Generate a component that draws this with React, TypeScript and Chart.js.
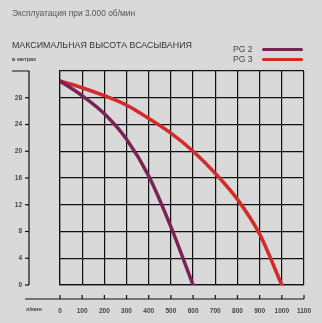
import React, { useEffect, useRef } from "react";
import { Chart, registerables } from "chart.js";

Chart.register(...registerables);

const flowValues = [0, 100, 200, 300, 400, 500, 600, 700, 800, 900, 1000];
const pg2Heights = [30.5, 28.3, 25.6, 21.8, 16.3, 8.7, 0];
const pg3Heights = [30.5, 29.5, 28.3, 26.9, 24.9, 22.7, 20.0, 16.7, 12.8, 7.6, 0];
const seriesNames = ["PG 2", "PG 3"];
const seriesColors = ["#7a2355", "#d42a2a"];
const xMax = 1100;
const yMax = 32;

const FONT = "'Liberation Sans', Arial, sans-serif";
const BG = "#d9d9d9";

const offsetAxes = {
  id: "offsetAxes",
  afterDraw(chart: any) {
    const ctx = chart.ctx;
    const xs = chart.scales.x;
    const ys = chart.scales.y;
    const area = chart.chartArea;
    ctx.save();
    ctx.strokeStyle = "#111";
    ctx.lineWidth = 1.2;
    const ax = 29;
    ctx.beginPath();
    ctx.moveTo(12, area.top);
    ctx.lineTo(ax, area.top);
    ctx.lineTo(ax, area.bottom);
    ctx.stroke();
    for (let v = 0; v < yMax; v += 4) {
      const py = ys.getPixelForValue(v);
      ctx.beginPath();
      ctx.moveTo(ax - 4, py);
      ctx.lineTo(ax, py);
      ctx.stroke();
    }
    const ay = area.bottom + 14;
    ctx.beginPath();
    ctx.moveTo(25, ay);
    ctx.lineTo(area.right, ay);
    ctx.stroke();
    for (let v = 0; v <= xMax; v += 100) {
      const px = xs.getPixelForValue(v);
      ctx.beginPath();
      ctx.moveTo(px, ay);
      ctx.lineTo(px, ay - 4);
      ctx.stroke();
    }
    ctx.restore();
  },
};

const zeroPad = (s: any) => {
  s.paddingTop = 0;
  s.paddingBottom = 0;
  s.paddingLeft = 0;
  s.paddingRight = 0;
};

export default function App() {
  const ref = useRef<HTMLCanvasElement>(null);

  useEffect(() => {
    const chart = new Chart(ref.current!, {
      type: "line",
      data: {
        datasets: [
          {
            label: seriesNames[0],
            data: pg2Heights.map((h, i) => ({ x: flowValues[i], y: h })),
            borderColor: seriesColors[0],
            borderWidth: 3.5,
            pointRadius: 0,
            cubicInterpolationMode: "monotone",
            borderCapStyle: "round",
          },
          {
            label: seriesNames[1],
            data: pg3Heights.map((h, i) => ({ x: flowValues[i], y: h })),
            borderColor: seriesColors[1],
            borderWidth: 3.5,
            pointRadius: 0,
            cubicInterpolationMode: "monotone",
            borderCapStyle: "round",
          },
        ],
      },
      options: {
        animation: false,
        responsive: false,
        devicePixelRatio: 1,
        layout: { padding: { top: 71, right: 18, left: 0, bottom: 0 } },
        plugins: { legend: { display: false }, tooltip: { enabled: false } },
        scales: {
          x: {
            type: "linear",
            min: 0,
            max: xMax,
            afterFit: (s: any) => {
              s.height = 38;
              zeroPad(s);
            },
            ticks: {
              stepSize: 100,
              autoSkip: false,
              maxRotation: 0,
              padding: 22,
              color: "#444",
              font: { family: FONT, size: 6.5, weight: "bold" },
              callback: (v: any) => String(v),
            },
            grid: { color: "#111", lineWidth: 1.2, drawTicks: false },
            border: { color: "#111", width: 1.2 },
          },
          y: {
            min: 0,
            max: yMax,
            afterFit: (s: any) => {
              s.width = 60;
              zeroPad(s);
            },
            ticks: {
              stepSize: 4,
              autoSkip: false,
              padding: 38,
              color: "#444",
              font: { family: FONT, size: 6.5, weight: "bold" },
              callback: (v: any) => (v === yMax ? "" : String(v)),
            },
            grid: { color: "#111", lineWidth: 1.2, drawTicks: false },
            border: { color: "#111", width: 1.2 },
          },
        },
      },
      plugins: [offsetAxes],
    } as any);
    return () => chart.destroy();
  }, []);

  const txt = (style: React.CSSProperties, s: string) => (
    <div style={{ position: "absolute", fontFamily: FONT, whiteSpace: "nowrap", lineHeight: 1, ...style }}>{s}</div>
  );

  return (
    <div style={{ position: "fixed", left: 0, top: 0, width: 322, height: 323, background: BG, overflow: "hidden" }}>
      <canvas ref={ref} width={322} height={323} style={{ position: "absolute", left: 0, top: 0 }} />
      {txt({ left: 12, top: 9, fontSize: 8.4, color: "#555" }, "Эксплуатация при 3.000 об/мин")}
      {txt({ left: 12, top: 41, fontSize: 8.85, color: "#333" }, "МАКСИМАЛЬНАЯ ВЫСОТА ВСАСЫВАНИЯ")}
      {txt({ left: 12, top: 57, fontSize: 5.5, color: "#444", fontWeight: "bold" }, "в метрах")}
      {txt({ left: 233, top: 44.5, fontSize: 8.6, color: "#444" }, seriesNames[0])}
      {txt({ left: 233, top: 54.5, fontSize: 8.6, color: "#444" }, seriesNames[1])}
      <div style={{ position: "absolute", left: 262, top: 47.5, width: 41, height: 3.5, borderRadius: 2, background: seriesColors[0] }} />
      <div style={{ position: "absolute", left: 262, top: 57.5, width: 41, height: 3.5, borderRadius: 2, background: seriesColors[1] }} />
      {txt({ left: 26, top: 307, fontSize: 5.5, color: "#444", fontWeight: "bold" }, "л/мин")}
    </div>
  );
}
